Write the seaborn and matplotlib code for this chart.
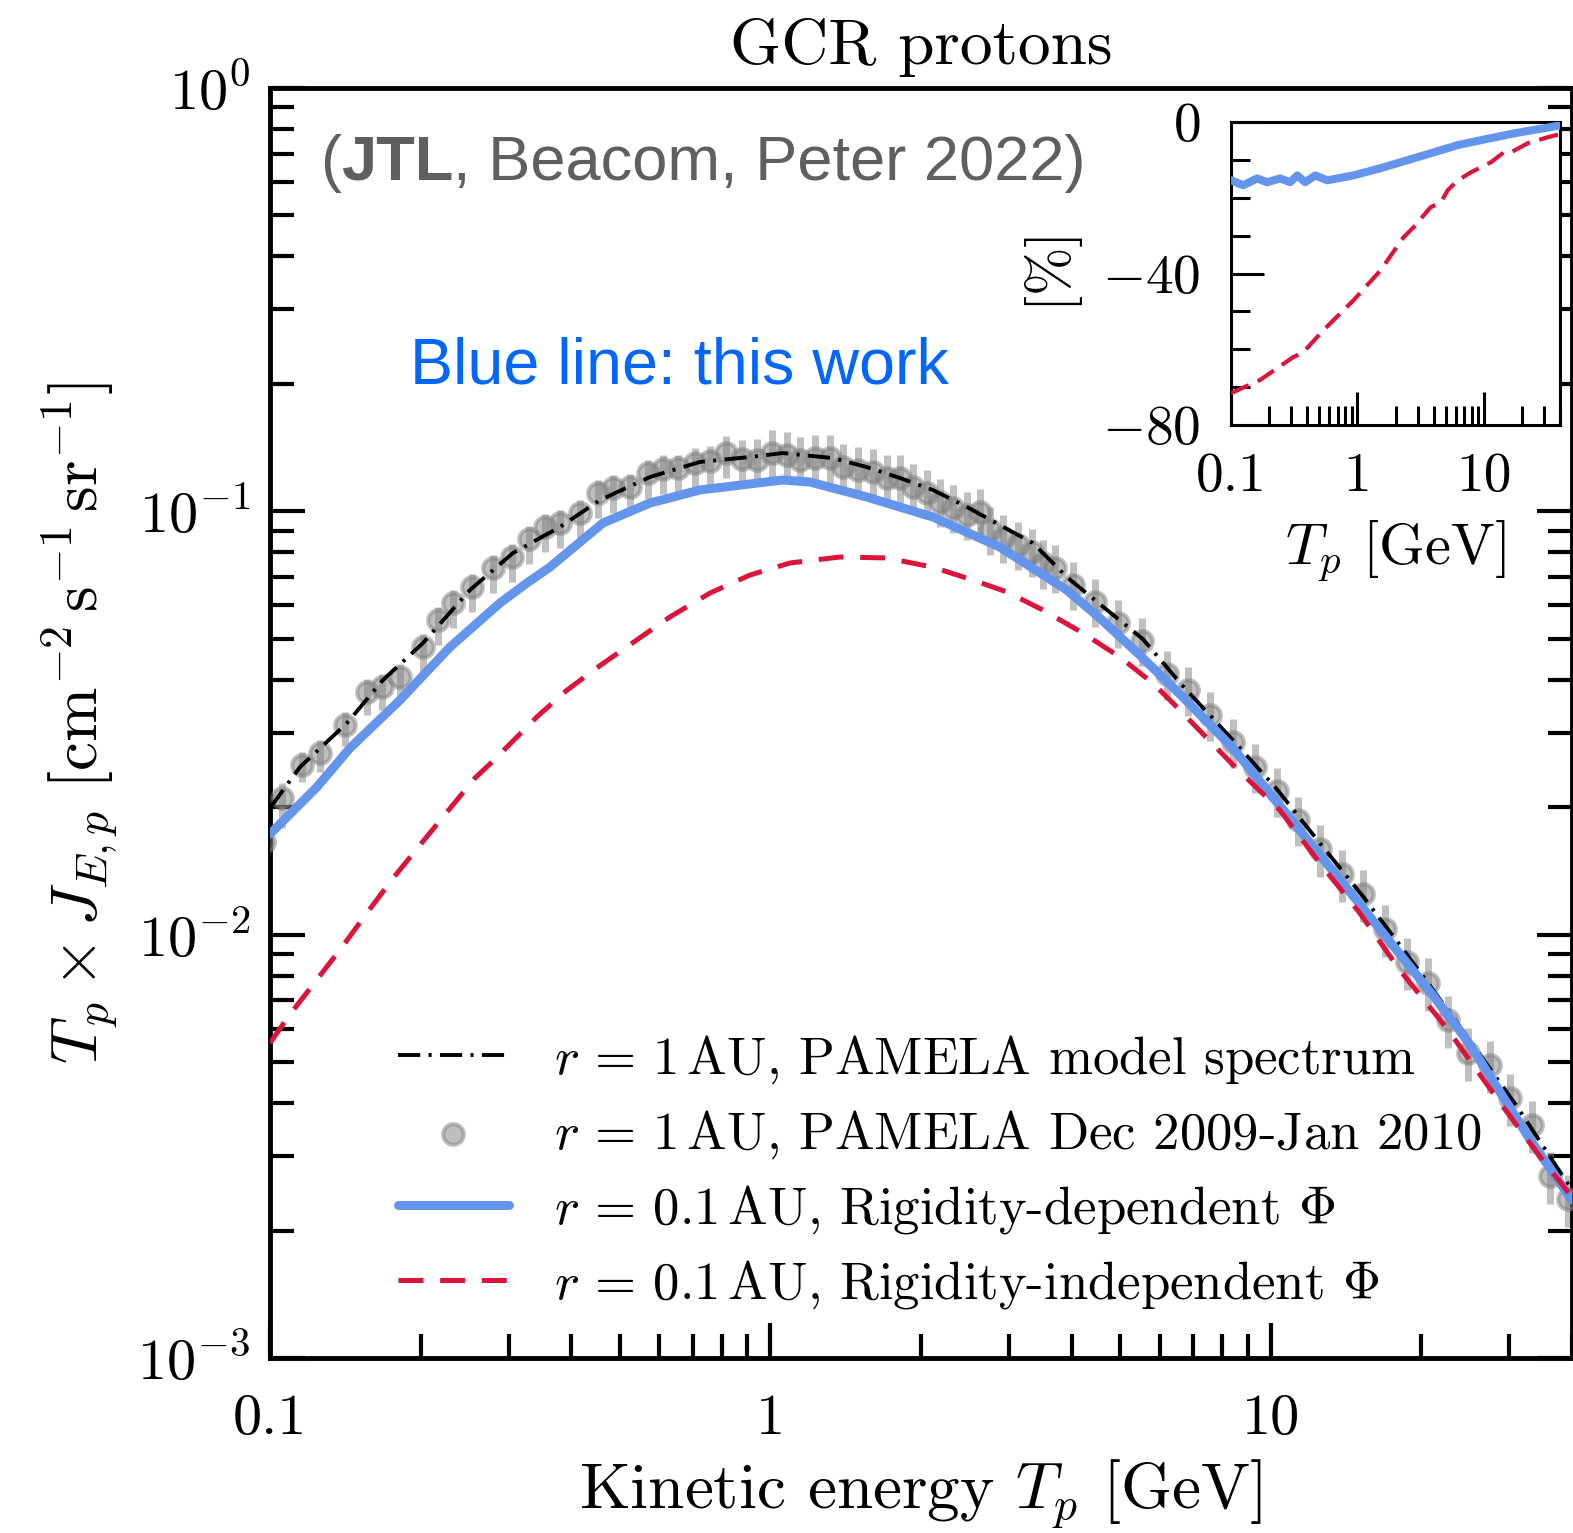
import numpy as np
import pandas as pd
import matplotlib
matplotlib.use("Agg")
import matplotlib.pyplot as plt
import matplotlib.ticker as mticker
import seaborn as sns

# ---------------- data ----------------
# PAMELA model spectrum at 1 AU (black dash-dot)
model_T = [0.1, 0.1148, 0.1425, 0.1682, 0.2022, 0.2509, 0.3059, 0.3796, 0.4564, 0.5743,
           0.7230, 0.9100, 1.059, 1.333, 1.559, 1.814, 2.112, 2.470, 2.874, 3.346,
           3.912, 4.553, 5.549, 6.673, 8.398, 10.28, 12.53, 15.27, 18.95, 24.64,
           31.01, 40.0]
model_F = [0.01991, 0.02489, 0.03161, 0.03995, 0.04886, 0.06518, 0.07970, 0.09183, 0.1063, 0.1205,
           0.1308, 0.1344, 0.1373, 0.1336, 0.1272, 0.1199, 0.1123, 0.1024, 0.09282, 0.08417,
           0.06996, 0.06039, 0.04993, 0.03867, 0.02882, 0.02208, 0.01646, 0.01234, 0.008806, 0.005760,
           0.003936, 0.002492]

# PAMELA Dec 2009 - Jan 2010 data points
data_T = [0.0975, 0.1057, 0.1159, 0.1259, 0.1412, 0.1562, 0.1674, 0.1819, 0.2022, 0.2166, 0.2321,
          0.2533, 0.2790, 0.3045, 0.3293, 0.3544, 0.3796, 0.4162, 0.4522, 0.4845, 0.5240,
          0.5692, 0.6099, 0.6535, 0.7067, 0.7569, 0.8150, 0.8772, 0.9397, 1.007, 1.079,
          1.145, 1.227, 1.315, 1.396, 1.496, 1.603, 1.709, 1.814, 1.926, 2.054,
          2.182, 2.315, 2.470, 2.622, 2.746, 2.914, 3.123, 3.331, 3.504, 3.702,
          4.021, 4.449, 4.947, 5.524, 6.199, 6.829, 7.553, 8.398, 9.290, 10.28,
          11.32, 12.53, 13.87, 15.27, 16.90, 18.69, 20.59, 22.57, 24.75, 27.39,
          30.03, 33.22, 36.09, 39.21]
data_F = [0.01655, 0.02102, 0.02517, 0.02685, 0.03127, 0.03741, 0.03845, 0.04060, 0.04778, 0.05535, 0.06073,
          0.06627, 0.07345, 0.07799, 0.08601, 0.09183, 0.09384, 0.09908, 0.1105, 0.1135, 0.1141,
          0.1231, 0.1259, 0.1265, 0.1300, 0.1315, 0.1373, 0.1329, 0.1322, 0.1373, 0.1358,
          0.1322, 0.1336, 0.1336, 0.1272, 0.1252, 0.1238, 0.1199, 0.1199, 0.1141, 0.1105,
          0.1052, 0.1018, 0.09801, 0.09962, 0.09033, 0.08649, 0.08326, 0.08014, 0.07545, 0.07345,
          0.06699, 0.06106, 0.05446, 0.04938, 0.04126, 0.03782, 0.03302, 0.02851, 0.02489, 0.02184,
          0.01865, 0.01593, 0.01390, 0.01247, 0.01031, 0.008614, 0.007687, 0.006284, 0.005253, 0.004918,
          0.004111, 0.003550, 0.002690, 0.002373]
# error bar half-lengths in dex (upper / lower)
err_up_dex = [0.035, 0.035, 0.030, 0.030, 0.030, 0.032, 0.030, 0.030, 0.030, 0.030, 0.030,
              0.030, 0.030, 0.030, 0.030, 0.030, 0.030, 0.030, 0.030, 0.030, 0.030,
              0.030, 0.032, 0.032, 0.035, 0.035, 0.040, 0.045, 0.050, 0.055, 0.055,
              0.055, 0.055, 0.055, 0.055, 0.055, 0.055, 0.055, 0.055, 0.055, 0.055,
              0.055, 0.055, 0.055, 0.055, 0.055, 0.055, 0.055, 0.055, 0.055, 0.055,
              0.055, 0.055, 0.055, 0.055, 0.055, 0.055, 0.055, 0.055, 0.055, 0.055,
              0.055, 0.058, 0.058, 0.058, 0.058, 0.058, 0.058, 0.058, 0.058, 0.058,
              0.058, 0.058, 0.058, 0.058]
err_dn_dex = [0.050, 0.070, 0.040, 0.045, 0.050, 0.055, 0.055, 0.060, 0.060, 0.060, 0.060,
              0.060, 0.060, 0.060, 0.060, 0.060, 0.060, 0.060, 0.060, 0.060, 0.060,
              0.060, 0.060, 0.060, 0.060, 0.060, 0.060, 0.060, 0.060, 0.060, 0.060,
              0.060, 0.060, 0.060, 0.060, 0.060, 0.060, 0.060, 0.060, 0.060, 0.060,
              0.060, 0.060, 0.060, 0.060, 0.060, 0.060, 0.060, 0.060, 0.060, 0.060,
              0.060, 0.060, 0.060, 0.060, 0.062, 0.062, 0.062, 0.062, 0.062, 0.062,
              0.062, 0.065, 0.065, 0.065, 0.065, 0.065, 0.065, 0.065, 0.065, 0.065,
              0.065, 0.065, 0.065, 0.065]

# r = 0.1 AU, rigidity-dependent Phi (blue, this work)
blue_T = [0.1, 0.1241, 0.1445, 0.1819, 0.2289, 0.2881, 0.3262, 0.3626, 0.4628, 0.5743,
          0.7230, 1.059, 1.199, 1.559, 2.112, 2.874, 3.912, 4.553, 5.473, 6.673,
          8.398, 10.76, 15.06, 21.07, 24.98, 32.93, 40.0]
blue_F = [0.01729, 0.02232, 0.02759, 0.03582, 0.04778, 0.06073, 0.06771, 0.07384, 0.09384, 0.1046,
          0.1123, 0.1186, 0.1173, 0.1081, 0.09694, 0.08236, 0.06518, 0.05596, 0.04575, 0.03640,
          0.02759, 0.01927, 0.01181, 0.007201, 0.005515, 0.003290, 0.002360]

# r = 0.1 AU, rigidity-independent Phi (red dashed)
red_T = [0.1, 0.1086, 0.1230, 0.1393, 0.1562, 0.1762, 0.1994, 0.2258, 0.2568, 0.2777,
         0.2975, 0.3416, 0.3921, 0.4564, 0.541, 0.630, 0.757, 0.910, 1.094, 1.377,
         1.709, 2.112, 2.54, 2.97, 3.50, 4.21, 4.99, 5.81, 6.49, 8.40,
         10.42, 12.53, 15.06, 18.10, 22.46, 28.68, 34.97, 40.0]
red_F = [0.005545, 0.006388, 0.007727, 0.009348, 0.01125, 0.01360, 0.01628, 0.01948, 0.02344, 0.02557,
         0.02774, 0.0327, 0.0378, 0.0432, 0.0497, 0.0563, 0.0641, 0.0707, 0.0755, 0.0780,
         0.0776, 0.0738, 0.0688, 0.0645, 0.0585, 0.0516, 0.0453, 0.0393, 0.0345, 0.0252,
         0.0197, 0.01476, 0.01125, 0.00825, 0.00602, 0.00402, 0.00293, 0.00240]

# inset: percentage difference
inset_blue_T = [0.1, 0.125, 0.161, 0.193, 0.245, 0.294, 0.334, 0.386, 0.464, 0.578,
                0.929, 1.52, 2.78, 5.18, 6.22, 9.47, 17.3, 40.0]
inset_blue_P = [-15.4, -16.7, -14.9, -15.9, -14.9, -15.9, -14.1, -15.9, -14.1, -15.4,
                -14.1, -12.2, -9.6, -6.9, -6.1, -4.8, -3.0, -0.9]
inset_red_T = [0.1, 0.170, 0.310, 0.373, 0.537, 0.929, 1.52, 2.32, 2.78, 3.79,
               4.56, 5.18, 6.22, 7.89, 11.4, 14.4, 16.4, 22.3, 32.2, 40.0]
inset_red_P = [-71.6, -68.1, -62.1, -60.8, -55.0, -47.1, -39.2, -30.4, -27.8, -22.5,
               -21.2, -18.0, -15.4, -13.3, -10.6, -8.0, -8.0, -5.6, -4.0, -3.2]

x_ticks = [0.1, 1, 10]
x_ticklabels = ["0.1", "1", "10"]
inset_y_ticks = [-80, -40, 0]
inset_y_ticklabels = [r"$-80$", r"$-40$", r"$0$"]

labels = [r"$r\,=\,1\,$AU, PAMELA model spectrum",
          r"$r\,=\,1\,$AU, PAMELA Dec 2009-Jan 2010",
          r"$r\,=\,0.1\,$AU, Rigidity-dependent $\Phi$",
          r"$r\,=\,0.1\,$AU, Rigidity-independent $\Phi$"]

# ---------------- style ----------------
sns.set_style("white")
plt.rcParams.update({
    "font.family": ["cmr10"],
    "mathtext.fontset": "cm",
    "axes.formatter.use_mathtext": True,
    "lines.scale_dashes": False,
    "axes.unicode_minus": True,
    "text.color": "black",
    "axes.labelcolor": "black",
    "xtick.color": "black",
    "ytick.color": "black",
})

W, H = 1573, 1533
fig = plt.figure(figsize=(W / 100, H / 100), dpi=100)
fig.patch.set_facecolor("white")

def fx(px):
    return px / W

def fy(py):
    return (H - py) / H

ax = fig.add_axes([fx(270), fy(1358), fx(1572) - fx(270), fy(88) - fy(1358)])
ax.set_facecolor("white")

BLUE = "cornflowerblue"
RED = "crimson"

dT = np.array(data_T)
dF = np.array(data_F)
lo = dF * (1 - 10 ** (-np.array(err_dn_dex)))
hi = dF * (10 ** np.array(err_up_dex) - 1)
ax.errorbar(dT, dF, yerr=[lo, hi], fmt="none", ecolor="gray", alpha=0.5,
            elinewidth=5, capsize=0, zorder=2)

df_data = pd.DataFrame({"T": data_T, "F": data_F})
sns.scatterplot(data=df_data, x="T", y="F", ax=ax, s=220, color="gray",
                edgecolor="gray", linewidth=3, alpha=0.5, zorder=3, legend=False)
h_pts = ax.collections[-1]

sns.lineplot(x=model_T, y=model_F, ax=ax, color="black", lw=2.8,
             estimator=None, sort=False, zorder=4, legend=False)
h_model = ax.lines[-1]
h_model.set_linestyle((0, (16, 6, 2.2, 6)))

sns.lineplot(x=blue_T, y=blue_F, ax=ax, color=BLUE, lw=6.5,
             estimator=None, sort=False, zorder=5, legend=False)
h_blue = ax.lines[-1]

sns.lineplot(x=red_T, y=red_F, ax=ax, color=RED, lw=3.6,
             estimator=None, sort=False, zorder=6, legend=False)
h_red = ax.lines[-1]
h_red.set_linestyle((0, (18, 12)))

ax.set_xscale("log")
ax.set_yscale("log")
ax.set_xlim(0.1, 40)
ax.set_ylim(1e-3, 1)

ax.xaxis.set_major_locator(mticker.FixedLocator(x_ticks))
ax.xaxis.set_major_formatter(mticker.FixedFormatter(x_ticklabels))
ax.xaxis.set_minor_locator(mticker.LogLocator(base=10, subs=np.arange(2, 10), numticks=20))
ax.xaxis.set_minor_formatter(mticker.NullFormatter())
ax.yaxis.set_major_locator(mticker.LogLocator(base=10, numticks=10))
ax.yaxis.set_minor_locator(mticker.LogLocator(base=10, subs=np.arange(2, 10), numticks=20))
ax.yaxis.set_minor_formatter(mticker.NullFormatter())

for s in ax.spines.values():
    s.set_linewidth(3.5)
    s.set_color("black")
ax.tick_params(which="both", direction="in", left=True, bottom=True, right=True, top=False,
               colors="black")
ax.tick_params(which="major", length=25, width=3)
ax.tick_params(which="minor", length=17, width=3)
ax.tick_params(axis="x", which="major", labelsize=42, pad=26)
ax.tick_params(axis="y", which="major", labelsize=42, pad=14)

ax.set_xlabel(r"Kinetic energy $T_p$ [GeV]", fontsize=47, labelpad=9)
ax.set_ylabel(r"$T_p \times J_{E,p}\ [\mathrm{cm}^{-2}\,\mathrm{s}^{-1}\,\mathrm{sr}^{-1}]$",
              fontsize=47, labelpad=12)
ax.set_title("GCR protons", fontsize=47, pad=17)

leg = ax.legend([h_model, h_pts, h_blue, h_red], labels, frameon=False, fontsize=38,
                loc="center left", bbox_to_anchor=(fx(398), fy(1172)),
                bbox_transform=fig.transFigure, borderpad=0, borderaxespad=0,
                handlelength=2.1, handletextpad=0.85, labelspacing=0.42,
                scatterpoints=1)
leg.set_zorder(10)

# annotations
GREY = "#5f5f5f"
t1 = fig.text(fx(320), fy(180), "(", fontsize=45.5, color=GREY, family="Liberation Sans",
              ha="left", va="baseline")
t2 = ax.annotate("JTL", xy=(1, 0), xycoords=t1, fontsize=45.5, color=GREY,
                 family="Liberation Sans", weight="bold", ha="left", va="bottom")
t3 = ax.annotate(", Beacom, Peter 2022)", xy=(1, 0), xycoords=t2, fontsize=45.5, color=GREY,
                 family="Liberation Sans", ha="left", va="bottom")
fig.text(fx(410), fy(383), "Blue line: this work", fontsize=46.5, color="#0066FF",
         family="Liberation Sans", ha="left", va="baseline")

# ---------------- inset ----------------
axi = fig.add_axes([fx(1231), fy(425), fx(1560) - fx(1231), fy(122) - fy(425)])
axi.set_facecolor("white")
sns.lineplot(x=inset_blue_T, y=inset_blue_P, ax=axi, color=BLUE, lw=5.8,
             estimator=None, sort=False, legend=False, zorder=3)
sns.lineplot(x=inset_red_T, y=inset_red_P, ax=axi, color=RED, lw=3.0,
             estimator=None, sort=False, legend=False, zorder=4)
axi.lines[-1].set_linestyle((0, (14, 7)))
axi.set_xscale("log")
axi.set_xlim(0.1, 40)
axi.set_ylim(-80, 0)
axi.xaxis.set_major_locator(mticker.FixedLocator(x_ticks))
axi.xaxis.set_major_formatter(mticker.FixedFormatter(x_ticklabels))
axi.xaxis.set_minor_locator(mticker.LogLocator(base=10, subs=np.arange(2, 10), numticks=20))
axi.xaxis.set_minor_formatter(mticker.NullFormatter())
axi.yaxis.set_major_locator(mticker.FixedLocator(inset_y_ticks))
axi.yaxis.set_major_formatter(mticker.FixedFormatter(inset_y_ticklabels))
axi.yaxis.set_minor_locator(mticker.MultipleLocator(10))
for s in axi.spines.values():
    s.set_linewidth(2.2)
    s.set_color("black")
axi.tick_params(which="both", direction="in", left=True, bottom=True, right=False, top=False)
axi.tick_params(which="major", length=24, width=2.2, labelsize=40)
axi.tick_params(which="minor", length=14, width=2.2)
axi.tick_params(axis="x", which="major", pad=20)
axi.tick_params(axis="y", which="major", pad=22)
axi.set_xlabel(r"$T_p$ [GeV]", fontsize=42, labelpad=12)
axi.set_ylabel(r"$[\%]$", fontsize=42, labelpad=12)

fig.savefig("out.png", dpi=100, facecolor="white")
